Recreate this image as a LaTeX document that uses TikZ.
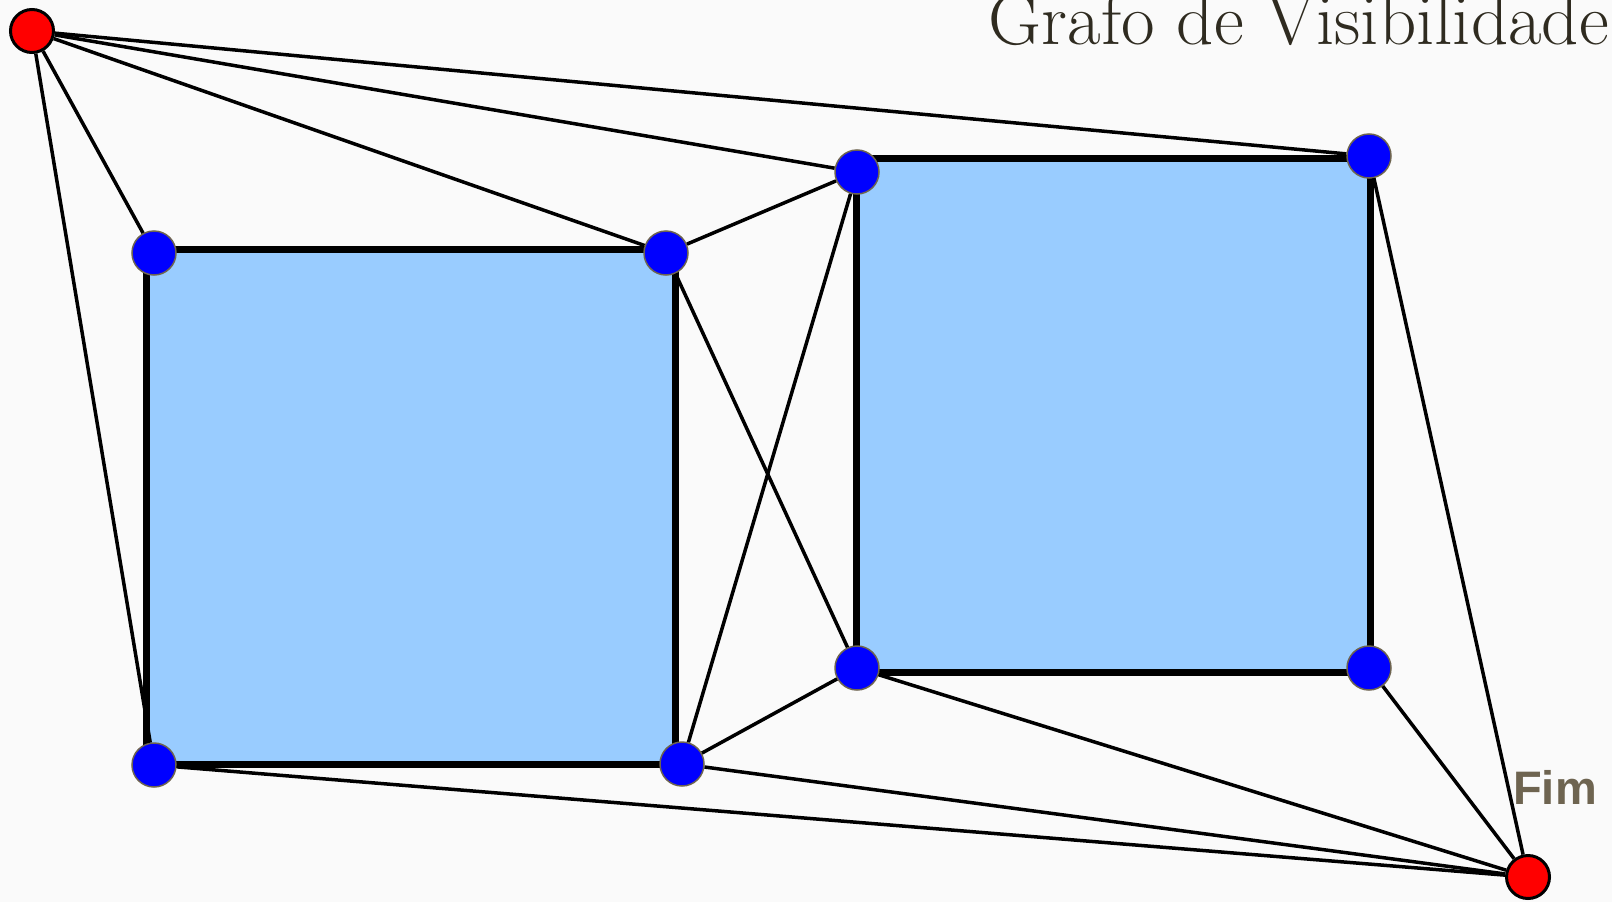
\documentclass[tikz,border=0pt]{standalone}
\usepackage{fontspec}
\newfontfamily\fimfont{Liberation Sans}
\usepackage{tikz}
\usetikzlibrary{shapes,calc,positioning}
\definecolor{obstblue}{RGB}{153,204,255}
\definecolor{nodblue}{RGB}{0,0,255}
\definecolor{nodrim}{RGB}{110,100,80}
\definecolor{fimcol}{RGB}{110,100,80}
\definecolor{titcol}{RGB}{47,43,32}
\definecolor{bgcol}{RGB}{250,250,250}
\tikzset{nodr/.style={circle,draw=black,line width=3pt,fill=red,minimum size=43pt,inner sep=0pt}}
\tikzset{nodb/.style={circle,draw=nodrim,line width=1.5pt,fill=nodblue,minimum size=44pt,inner sep=0pt}}
\tikzset{obst/.style={rectangle,draw=black,line width=7pt,fill=obstblue,inner sep=0pt}}
\tikzset{vis/.style={line width=3.5pt}}

\begin{document}
\begin{tikzpicture}[x=1pt,y=1pt]
\fill [bgcol] (0,0) rectangle (1612,-902);
\useasboundingbox (0,0) rectangle (1612,-902);
% obstacles
\node [obst,minimum width=529pt,minimum height=515pt] at (410.5,-506.5) (sq1) {};
\node [obst,minimum width=514pt,minimum height=514pt] at (1113,-415) (sq2) {};

\node [nodr] at (32,-31) (s) {};
\node [nodb] at (154,-253) (a1) {}
	edge [vis] (s);
\node [nodb] at (666,-253) (a2) {}
	edge [vis] (s);
\node [nodb] at (154,-765) (a3) {}
	edge [vis] (s);
\node [nodb] at (857,-172) (b1) {}
	edge [vis] (s)
	edge [vis] (a2);
\node [nodb] at (1369,-156) (b2) {}
	edge [vis] (s);
\node [nodb] at (857,-668) (b3) {}
	edge [vis] (a2);
\node [nodb] at (682,-764) (a4) {}
	edge [vis] (b1)
	edge [vis] (b3);
\node [nodb] at (1369,-668) (b4) {};

\node [nodr] at (1528,-877) (f) {}
	edge [vis] (a3)
	edge [vis] (a4)
	edge [vis] (b3)
	edge [vis] (b4)
	edge [vis] (b2);

\node [anchor=base west,text=fimcol,inner sep=0pt] at (1513,-804) (fim) {\fimfont\bfseries\fontsize{47}{47}\selectfont Fim};
\node [anchor=base east,text=titcol,inner sep=0pt] at (1609,-44) (tit) {\fontsize{73}{73}\selectfont Grafo de Visibilidade};
\end{tikzpicture}
\end{document}
